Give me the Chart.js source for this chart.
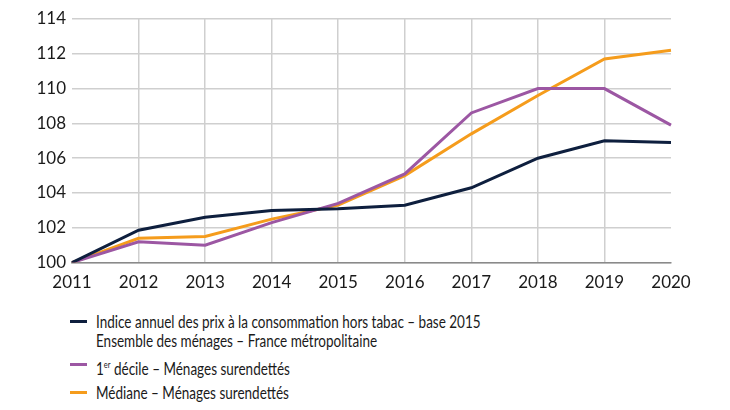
<!DOCTYPE html>
<html>
<head>
<meta charset="utf-8">
<script src="https://cdn.jsdelivr.net/npm/chart.js@4"></script>
<style>
  body { margin: 0; background: #fff; font-family: Lato, sans-serif; color: #1a1a1a; }
  #wrap { position: relative; width: 730px; height: 303px; }
  #legend { margin: 9px 0 0 70px; font-size: 18px; line-height: 19px; }
  .item { display: flex; align-items: flex-start; margin-bottom: 5px; }
  .sw { width: 17px; height: 3px; margin: 8px 9px 0 0; flex: none; }
  .txt { display: inline-block; transform: scaleX(0.75); transform-origin: left top; white-space: nowrap; }
  sup { font-size: 10px; }
</style>
</head>
<body>
<div id="wrap"><canvas id="chart"></canvas></div>
<div id="legend"></div>
<script>
  const years = ['2011', '2012', '2013', '2014', '2015', '2016', '2017', '2018', '2019', '2020'];
  const ipc = [100, 101.86, 102.6, 103.0, 103.1, 103.3, 104.3, 106.0, 107.0, 106.9];
  const decile1 = [100, 101.2, 101.0, 102.3, 103.4, 105.1, 108.6, 110.0, 110.0, 107.9];
  const mediane = [100, 101.4, 101.5, 102.5, 103.3, 105.0, 107.4, 109.6, 111.7, 112.2];
  const series = [
    { label: 'Indice annuel des prix à la consommation hors tabac – base 2015<br>Ensemble des ménages – France métropolitaine', data: ipc, color: '#0e1f3e' },
    { label: '1<sup>er</sup> décile – Ménages surendettés', data: decile1, color: '#9c57a3' },
    { label: 'Médiane – Ménages surendettés', data: mediane, color: '#f59c1c' }
  ];

  const font = { family: 'Lato, sans-serif', size: 17 };

  new Chart(document.getElementById('chart'), {
    type: 'line',
    data: {
      labels: years,
      datasets: series.map(s => ({
        data: s.data,
        borderColor: s.color,
        borderWidth: 3,
        pointRadius: 0,
        tension: 0
      }))
    },
    options: {
      responsive: true,
      maintainAspectRatio: false,
      animation: false,
      layout: { padding: { top: 19, right: 59, left: 0, bottom: 0 } },
      plugins: {
        legend: { display: false },
        tooltip: { enabled: false }
      },
      scales: {
        x: {
          offset: false,
          grid: {
            color: ctx => (ctx.index === 0 || ctx.index === years.length - 1) ? 'rgba(0,0,0,0)' : '#cfcfcf',
            lineWidth: 1.5,
            drawTicks: false
          },
          border: { display: true, color: '#8a8a8a', width: 1.5 },
          ticks: { color: '#1a1a1a', font: font, padding: 10, maxRotation: 0 }
        },
        y: {
          min: 100,
          max: 114,
          ticks: { stepSize: 2, color: '#1a1a1a', font: font, padding: 6 },
          grid: { color: '#cfcfcf', lineWidth: 1.5, drawTicks: false },
          border: { display: false },
          afterFit: scale => { scale.width = 72; }
        }
      }
    }
  });

  document.getElementById('legend').innerHTML = series.map(s =>
    '<div class="item"><span class="sw" style="background:' + s.color + '"></span><span class="txt">' + s.label + '</span></div>'
  ).join('');
</script>
</body>
</html>
